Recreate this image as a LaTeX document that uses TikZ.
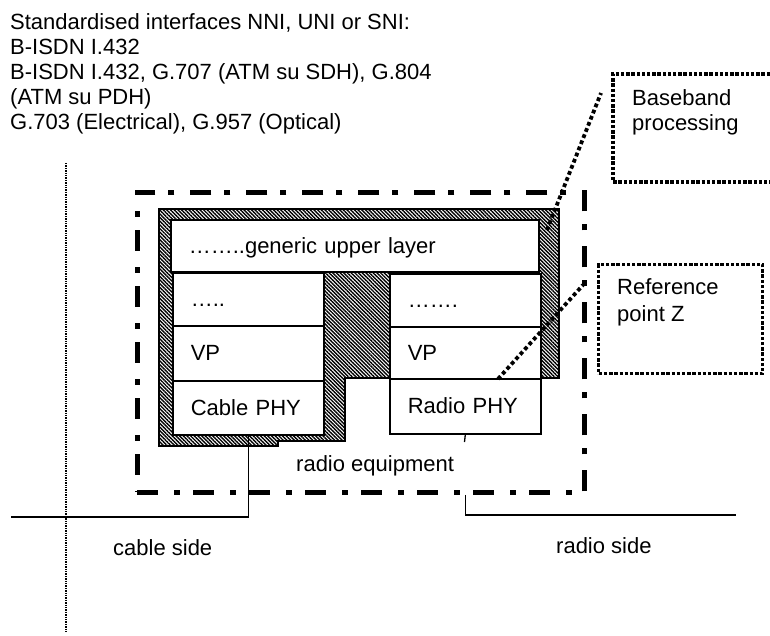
\documentclass[tikz,border=0pt]{standalone}
\usepackage{fontspec}
\setmainfont{Liberation Sans}
\usetikzlibrary{patterns.meta}
\begin{document}
\begin{tikzpicture}[x=1pt,y=-1pt,
  every node/.style={font=\fontsize{22}{25}\selectfont},
  layerbox/.style={draw, line width=1.6pt, fill=white, anchor=north west,
    inner xsep=18pt, inner ysep=0pt, text height=15pt, text depth=0pt, align=left},
  dashdotbox/.style={draw, line width=4.8pt, dash pattern=on 21pt off 16pt on 6pt off 13pt,
    anchor=north west, inner sep=0pt},
  dotbox/.style={line width=3.4pt, dash pattern=on 3.4pt off 1.8pt},
  leader/.style={line width=3.8pt, dash pattern=on 3.8pt off 2.8pt},
  hatch/.style={pattern={Lines[angle=-45,distance=2.6pt,line width=1.4pt]}, pattern color=black},
  conn/.style={line width=1.3pt},
  plain/.style={inner sep=0pt}]
\fill[white] (0,0) rectangle (770,635);
\useasboundingbox (0,0) rectangle (770,635);

% header text
\node[plain, anchor=north west, align=left] (hdr) at (10,13)
  {Standardised interfaces NNI, UNI or SNI:\\B-ISDN I.432\\B-ISDN I.432, G.707 (ATM su SDH), G.804\\(ATM su PDH)\\G.703 (Electrical), G.957 (Optical)};

% left dotted vertical line
\coordinate (vtop) at (66,163);
\coordinate (vbot) at (66,633);
\draw[line width=1.4pt, dash pattern=on 1.4pt off 1pt] (vtop) -- (vbot);

% radio equipment boundary
\node[dashdotbox, minimum width=447pt, minimum height=300pt] (equip) at (135,190) {};

% hatched frame
\path[hatch] (159,209) -- (559,209) -- (559,378) -- (345,378) -- (345,441) -- (278,441) -- (278,446) -- (159,446) -- cycle;
\draw[line width=1.5pt] (159,209) -- (559,209) -- (559,378) -- (345,378) -- (345,441) -- (278,441) -- (278,446) -- (159,446) -- cycle;

% layer boxes
\node[layerbox, minimum width=368pt, minimum height=52pt, text width=332pt] (generic) at (170,219) {……..generic upper layer};
\node[layerbox, minimum width=151pt, minimum height=53pt, text width=115pt] (ldots) at (172,272) {…..};
\node[layerbox, minimum width=151pt, minimum height=55pt, text width=115pt] (lvp) at (172,325) {VP};
\node[layerbox, minimum width=151pt, minimum height=54pt, text width=115pt] (cable) at (172,380) {Cable PHY};
\node[layerbox, minimum width=151pt, minimum height=53pt, text width=115pt] (rdots) at (389,273) {…….};
\node[layerbox, minimum width=151pt, minimum height=52pt, text width=115pt] (rvp) at (389,326) {VP};
\node[layerbox, minimum width=151pt, minimum height=55pt, text width=115pt] (radiophy) at (389,378) {Radio PHY};

% connectors
\coordinate (cableend) at (11,517);
\draw[conn] (cable.south) |- (cableend);
\coordinate (stub) at (464.5,442);
\draw[conn] (radiophy.south) -- (stub);
\coordinate (radioend) at (736,515);
\draw[conn] (equip.south -| radiophy.south) |- (radioend);

% callout boxes
\coordinate (bbtr) at (770,74);
\coordinate (bbtl) at (613,74);
\coordinate (bbbl) at (613,182);
\coordinate (bbbr) at (770,182);
\draw[dotbox] (bbtr) -- (bbtl) -- (bbbl) -- (bbbr);
\node[plain, anchor=north west, align=left] (bbtext) at (632,89) {Baseband\\processing};

\node[draw, dotbox, anchor=north west, inner sep=0pt, minimum width=164pt, minimum height=109pt] (refbox) at (597,263) {};
\node[plain, anchor=north west, align=left, font=\fontsize{22}{27}\selectfont] (reftext) at (617,278) {Reference\\point Z};

% leaders
\coordinate (bbfrom) at (547,230);
\coordinate (bbto) at (601,93);
\draw[leader] (bbfrom) -- (bbto);
\coordinate (zfrom) at (498,379);
\coordinate (zto) at (583,285);
\draw[leader] (zfrom) -- (zto);

% labels
\node[plain, anchor=base west] (req) at (296,471) {radio equipment};
\node[plain, anchor=base west] (cside) at (113,555) {cable side};
\node[plain, anchor=base west] (rside) at (556,553) {radio side};
\end{tikzpicture}
\end{document}
